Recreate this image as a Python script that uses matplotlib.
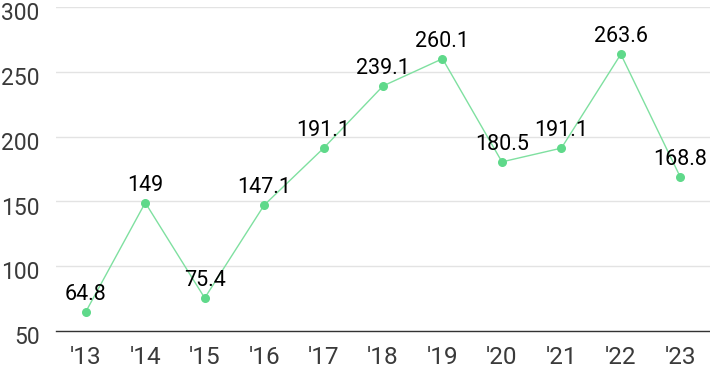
import matplotlib.pyplot as plt
import matplotlib.transforms as mtransforms

years = ["'13", "'14", "'15", "'16", "'17", "'18", "'19", "'20", "'21", "'22", "'23"]
values = [64.8, 149, 75.4, 147.1, 191.1, 239.1, 260.1, 180.5, 191.1, 263.6, 168.8]
yticks = [50, 100, 150, 200, 250, 300]

plt.rcParams['font.family'] = ['Roboto', 'DejaVu Sans']

fig = plt.figure(figsize=(7.1, 3.71), dpi=100)
ax = fig.add_axes([0.079, 0.108, 0.921, 0.873])

x = list(range(len(years)))
ax.plot(x, values, color='#7fe0a0', linewidth=1, zorder=3)
ax.scatter(x, values, color='#5fd98a', s=30, zorder=4)

for xi, v in zip(x, values):
    ax.annotate(f'{v:g}', (xi, v), xytext=(0, 5), textcoords='offset points',
                ha='center', va='bottom', fontsize=15.5, color='black', zorder=5)

ax.set_xlim(-0.5, len(years) - 0.5)
ax.set_ylim(50, 300)
ax.set_yticks(yticks)
ax.set_xticks(x)
ax.set_xticklabels(years)
ax.grid(axis='y', color='#e3e3e3', linewidth=1)
ax.set_axisbelow(True)
for s in ['top', 'right', 'left']:
    ax.spines[s].set_visible(False)
ax.spines['bottom'].set_color('#333333')
ax.spines['bottom'].set_linewidth(1)
ax.tick_params(axis='both', length=0, colors='#3a3a3a')
ax.tick_params(axis='y', pad=12, labelsize=16.5)
ax.tick_params(axis='x', pad=11, labelsize=17.5)

# nudge y labels a bit below their gridlines, like the original
shift = mtransforms.ScaledTranslation(0, -3 / 72, fig.dpi_scale_trans)
for lbl in ax.get_yticklabels():
    lbl.set_transform(lbl.get_transform() + shift)

fig.savefig('out.png', dpi=100)
